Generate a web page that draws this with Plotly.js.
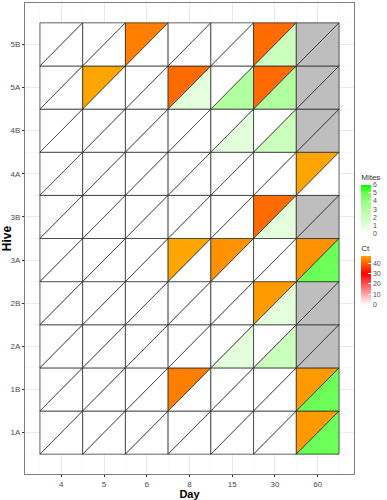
<!DOCTYPE html>
<html>
<head>
<meta charset="utf-8">
<script src="https://cdn.plot.ly/plotly-3.0.1.min.js"></script>
<style>html,body{margin:0;padding:0;background:#fff;}#chart{width:387px;height:500px;}</style>
</head>
<body>
<div id="chart"></div>
<script>
// Data
const days = ['4','5','6','8','15','30','60'];
const hives = ['1A','1B','2A','2B','3A','3B','4A','4B','5A','5B'];
// Ct values (upper-left triangle), one array per hive, columns follow days
const ct1A = [0,0,0,0,0,0,46];
const ct1B = [0,0,0,43,0,0,46];
const ct2A = [0,0,0,0,0,0,null];
const ct2B = [0,0,0,0,0,46,null];
const ct3A = [0,0,0,47,45,0,45];
const ct3B = [0,0,0,0,0,41,null];
const ct4A = [0,0,0,0,0,0,47];
const ct4B = [0,0,0,0,0,0,null];
const ct5A = [0,47,0,41,0,41,null];
const ct5B = [0,0,43,0,0,41,null];
// Mite counts (lower-right triangle)
const mi1A = [0,0,0,0,0,0,5];
const mi1B = [0,0,0,0,0,0,5];
const mi2A = [0,0,0,0,1,2,null];
const mi2B = [0,0,0,0,0,1,null];
const mi3A = [0,0,0,0,0,0,5];
const mi3B = [0,0,0,0,0,1,null];
const mi4A = [0,0,0,0,0,0,0];
const mi4B = [0,0,0,0,1,2,null];
const mi5A = [0,0,0,1,3,3,null];
const mi5B = [0,0,0,0,0,2,null];

const ctRows = [ct1A,ct1B,ct2A,ct2B,ct3A,ct3B,ct4A,ct4B,ct5A,ct5B];
const miRows = [mi1A,mi1B,mi2A,mi2B,mi3A,mi3B,mi4A,mi4B,mi5A,mi5B];

const ctMax = 47, miMax = 6;
const ctScale = [[0,'#FFFFFF'],[30/47,'#FF0000'],[1,'#FFA500']];
const miScale = [[0,'#FFFFFF'],[1/6,'#E4FFDC'],[2/6,'#CBFFBE'],[3/6,'#B1FF9F'],[4/6,'#93FF7F'],[5/6,'#6BFF57'],[1,'#00FF00']];
const naColor = '#BEBEBE';

function hex2rgb(h){h=h.replace('#','');return [parseInt(h.substr(0,2),16),parseInt(h.substr(2,2),16),parseInt(h.substr(4,2),16)];}
function scaleColor(scale, v, vmax){
  if(v===null||v===undefined) return naColor;
  let t=Math.max(0,Math.min(1,v/vmax));
  for(let i=1;i<scale.length;i++){
    if(t<=scale[i][0]){
      const a=scale[i-1], b=scale[i];
      const f=(t-a[0])/(b[0]-a[0]||1);
      const ca=hex2rgb(a[1]), cb=hex2rgb(b[1]);
      const c=ca.map((x,k)=>Math.round(x+(cb[k]-x)*f));
      return 'rgb('+c.join(',')+')';
    }
  }
  return scale[scale.length-1][1];
}

const traces=[];
const lineStyle={color:'#222222',width:0.7};
hives.forEach((h,yi)=>{
  days.forEach((d,xi)=>{
    const x=xi+1, y=yi+1;
    // upper-left triangle: Ct
    traces.push({type:'scatter',mode:'lines',fill:'toself',
      x:[x-0.5,x-0.5,x+0.5,x-0.5], y:[y-0.5,y+0.5,y+0.5,y-0.5],
      fillcolor:scaleColor(ctScale,ctRows[yi][xi],ctMax), line:lineStyle,
      hoverinfo:'skip',showlegend:false});
    // lower-right triangle: Mites
    traces.push({type:'scatter',mode:'lines',fill:'toself',
      x:[x-0.5,x+0.5,x+0.5,x-0.5], y:[y-0.5,y-0.5,y+0.5,y-0.5],
      fillcolor:scaleColor(miScale,miRows[yi][xi],miMax), line:lineStyle,
      hoverinfo:'skip',showlegend:false});
  });
});

// colorbar carriers
traces.push({type:'scatter',mode:'markers',x:[1],y:[1],hoverinfo:'skip',showlegend:false,
  marker:{size:1,opacity:0,color:[0],cmin:0,cmax:miMax,colorscale:miScale,showscale:true,
    colorbar:{title:{text:'Mites',side:'top',font:{size:8,color:'#333'}},
      x:1.022,xanchor:'left',y:0.644,yanchor:'top',len:63,lenmode:'pixels',thickness:10,
      xpad:0,ypad:0,outlinewidth:0,tickvals:[0,1,2,3,4,5,6],ticks:'inside',ticklen:3,tickcolor:'#fff',
      tickfont:{size:7,color:'#4D4D4D'}}}});
traces.push({type:'scatter',mode:'markers',x:[1],y:[1],hoverinfo:'skip',showlegend:false,
  marker:{size:1,opacity:0,color:[0],cmin:0,cmax:ctMax,colorscale:ctScale,showscale:true,
    colorbar:{title:{text:'Ct',side:'top',font:{size:8,color:'#333'}},
      x:1.022,xanchor:'left',y:0.493,yanchor:'top',len:63,lenmode:'pixels',thickness:10,
      xpad:0,ypad:0,outlinewidth:0,tickvals:[0,10,20,30,40],ticks:'inside',ticklen:3,tickcolor:'#fff',
      tickfont:{size:7,color:'#4D4D4D'}}}});

const halfX=[], halfY=[];
for(let i=0;i<=days.length;i++) halfX.push(i+0.5);
for(let i=0;i<=hives.length;i++) halfY.push(i+0.5);

const layout={
  width:387,height:500,
  margin:{l:25,r:30,t:2,b:25},
  paper_bgcolor:'#fff',plot_bgcolor:'#fff',
  font:{family:'Liberation Sans, Arial, sans-serif'},
  xaxis:{range:[0.15,7.85],tickvals:days.map((d,i)=>i+1),ticktext:days,
    showgrid:true,gridcolor:'#EBEBEB',gridwidth:1,zeroline:false,
    minor:{tickvals:halfX,showgrid:true,gridcolor:'#F2F2F2',gridwidth:0.5,ticks:''},
    showline:true,mirror:true,linecolor:'#7F7F7F',linewidth:1,automargin:true,
    ticks:'outside',ticklen:2,tickcolor:'#333',tickfont:{size:8,color:'#4D4D4D'},
    title:{text:'Day',font:{size:11,color:'#000',weight:'bold'},standoff:2}},
  yaxis:{range:[0.04,10.96],tickvals:hives.map((h,i)=>i+1),ticktext:hives,
    showgrid:true,gridcolor:'#EBEBEB',gridwidth:1,zeroline:false,
    minor:{tickvals:halfY,showgrid:true,gridcolor:'#F2F2F2',gridwidth:0.5,ticks:''},
    showline:true,mirror:true,linecolor:'#7F7F7F',linewidth:1,
    ticks:'outside',ticklen:2,tickcolor:'#333',tickfont:{size:8,color:'#4D4D4D'},
    title:{text:'Hive',font:{size:12,color:'#000',weight:'bold'},standoff:2}},
  showlegend:false
};
Plotly.newPlot('chart',traces,layout,{displayModeBar:false,staticPlot:true});
</script>
</body>
</html>
